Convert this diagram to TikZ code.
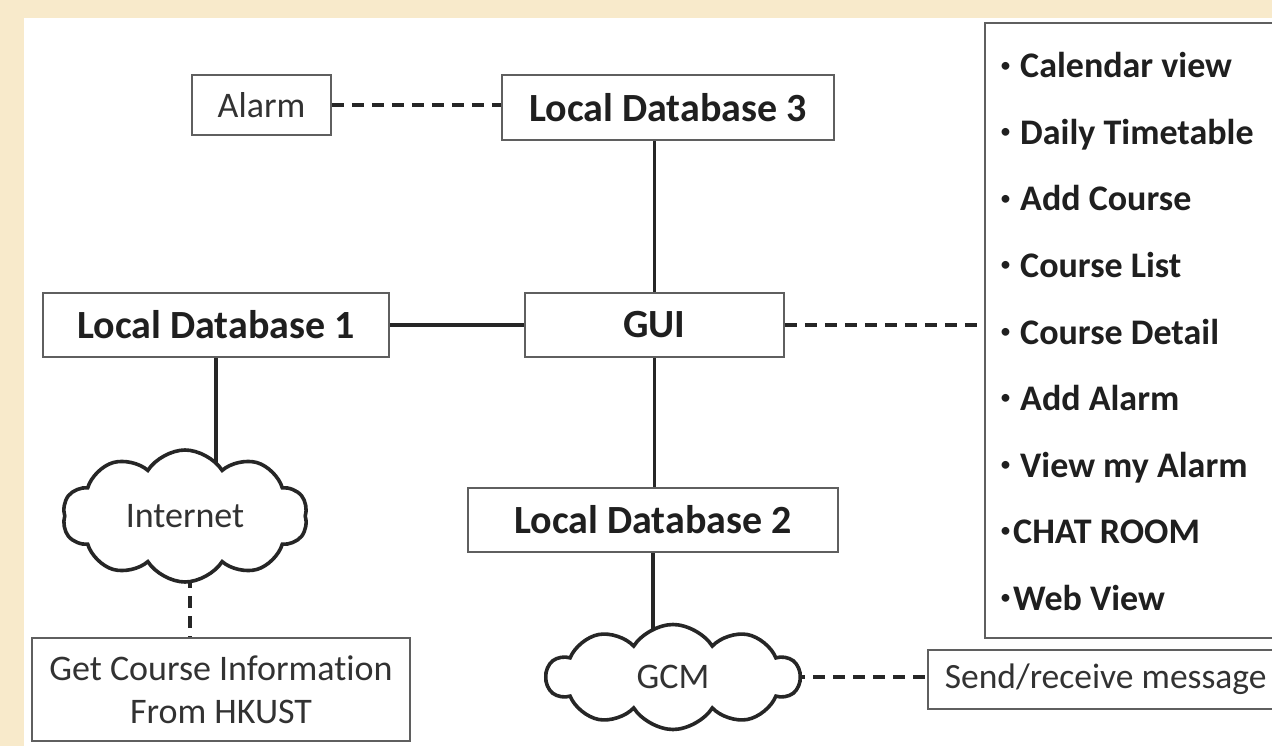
\documentclass[tikz,border=0pt]{standalone}
\usepackage{fontspec}
\setmainfont{Carlito}[Ligatures=NoCommon]
\usetikzlibrary{shapes.symbols}
\definecolor{parch}{RGB}{248,234,203}
\definecolor{boxline}{RGB}{95,95,95}
\definecolor{txt}{RGB}{50,50,50}
\pgfdeclarelayer{back}
\pgfdeclarelayer{bg}
\pgfsetlayers{back,bg,main}
\newcommand{\bul}{\raisebox{0.16em}{\mdseries\fontsize{22}{22}\selectfont •}}
\begin{document}
\begin{tikzpicture}[x=1pt,y=-1pt,
  box/.style={draw=boxline,line width=1.7pt,fill=white,rectangle,inner sep=0pt,text=txt},
  bbox/.style={box,font=\fontsize{40}{48}\selectfont\bfseries,text=black!88},
  rbox/.style={box,font=\fontsize{36}{43}\selectfont},
  conn/.style={line width=3.1pt,draw=black!85},
  dconn/.style={conn,dash pattern=on 12pt off 8pt},
  cloudn/.style={cloud,cloud puffs=10,cloud puff arc=115,aspect=2,draw=black!85,line width=3.6pt,fill=white,inner sep=0pt,font=\fontsize{36}{43}\selectfont,text=txt},
  item/.style={anchor=base west,inner sep=0pt,font=\fontsize{36}{43}\selectfont\bfseries,text=black!88}]
\useasboundingbox (0,0) rectangle (1272,746);
\begin{pgfonlayer}{back}
\fill[parch] (0,0) rectangle (1272,746);
\fill[white] (24,18) rectangle (1272,746);
\end{pgfonlayer}

\node[rbox,minimum width=139,minimum height=60] (alarm) at (261.5,105) {Alarm};
\node[bbox,minimum width=332,minimum height=65] (ld3) at (668,107.5) {Local Database 3};
\node[bbox,minimum width=259,minimum height=64] (gui) at (654.5,325) {GUI};
\node[bbox,minimum width=346,minimum height=64] (ld1) at (216,325) {Local Database 1};
\node[bbox,minimum width=370,minimum height=64] (ld2) at (653,520) {Local Database 2};
\node[box,minimum width=330,minimum height=615,anchor=north west] (list) at (984,22) {};
\node[rbox,minimum width=378,minimum height=103,align=center] (getc) at (221,689.5) {Get Course Information\\From HKUST};
\node[rbox,anchor=north west,minimum height=59,inner xsep=17pt,font=\fontsize{35.5}{42}\selectfont] (send) at (927,649) {\makebox[345pt][l]{Send/receive message}};
\node[cloudn,minimum width=245,minimum height=132] (inet) at (185,516) {Internet};
\node[cloudn,minimum width=253,minimum height=105] (gcm) at (673,677) {GCM};

\node[item] (i1) at (1000,78) {\makebox[20pt][l]{\bul}Calendar view};
\node[item] (i2) at (1000,144.5) {\makebox[20pt][l]{\bul}Daily Timetable};
\node[item] (i3) at (1000,211) {\makebox[20pt][l]{\bul}Add Course};
\node[item] (i4) at (1000,277.5) {\makebox[20pt][l]{\bul}Course List};
\node[item] (i5) at (1000,344) {\makebox[20pt][l]{\bul}Course Detail};
\node[item] (i6) at (1000,410.5) {\makebox[20pt][l]{\bul}Add Alarm};
\node[item] (i7) at (1000,477) {\makebox[20pt][l]{\bul}View my Alarm};
\node[item] (i8) at (1000,543.5) {\makebox[13pt][l]{\bul}CHAT ROOM};
\node[item] (i9) at (1000,610) {\makebox[13pt][l]{\bul}Web View};

\begin{pgfonlayer}{bg}
\draw[dconn] (alarm.east) -- (alarm.east -| ld3.west);
\draw[conn] (gui.north) -- (gui.north |- ld3.south);
\draw[conn] (ld1.east) -- (gui.west);
\draw[conn] (gui.south) -- (gui.south |- ld2.north);
\draw[conn] (ld2.south) -- (ld2.south |- gcm.center);
\draw[conn] (ld1.south) -- (ld1.south |- inet.center);
\draw[dconn] (gui.east) -- (gui.east -| list.west);
\draw[dconn] (inet.center) ++(5,0) coordinate (ic) -- (ic |- getc.north);
\draw[dconn] (gcm.center) -- (gcm.center -| send.west);
\end{pgfonlayer}
\end{tikzpicture}
\end{document}
